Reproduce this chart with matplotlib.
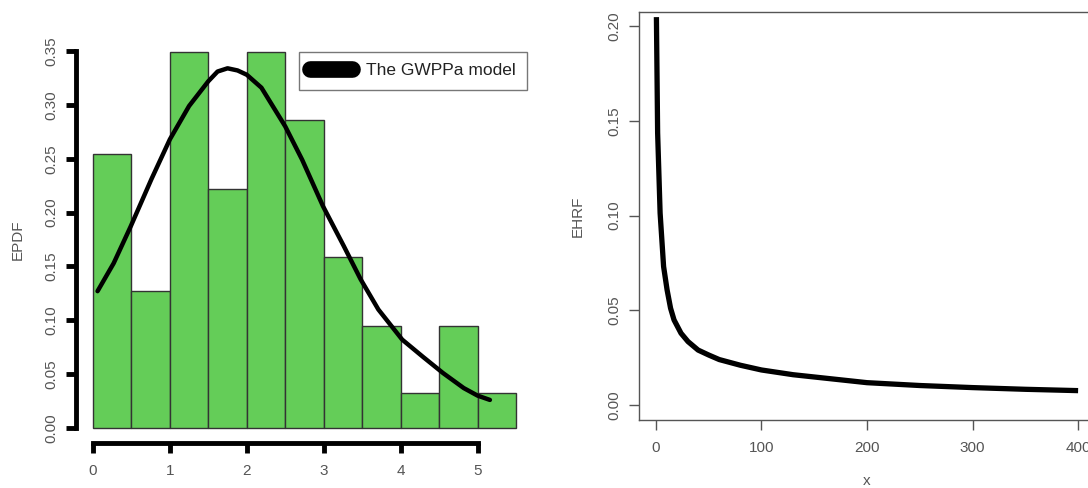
import numpy as np
import matplotlib.pyplot as plt
from matplotlib.lines import Line2D

plt.rcParams['font.family'] = ['Liberation Sans', 'DejaVu Sans']

# histogram bins (width 0.5) and density heights
bin_edges = [0, 0.5, 1.0, 1.5, 2.0, 2.5, 3.0, 3.5, 4.0, 4.5, 5.0, 5.5]
density = [0.254, 0.127, 0.349, 0.222, 0.349, 0.286, 0.159, 0.095, 0.032, 0.095, 0.032]

# fitted GWPPa density
pdf_x = [0.06, 0.27, 0.49, 0.76, 1.0, 1.25, 1.5, 1.62, 1.75, 1.88, 2.0, 2.19, 2.5, 2.72,
         2.99, 3.26, 3.48, 3.71, 4.02, 4.29, 4.55, 4.82, 5.0, 5.16]
pdf_y = [0.127, 0.153, 0.187, 0.231, 0.268, 0.299, 0.322, 0.331, 0.334, 0.332, 0.328, 0.316,
         0.280, 0.249, 0.206, 0.169, 0.138, 0.110, 0.082, 0.066, 0.051, 0.037, 0.030, 0.026]

# hazard rate curve
hrf_x = [0.5, 1.0, 1.65, 4.0, 7.3, 10.6, 13.9, 17.2, 23.8, 30.4, 40, 50, 60, 80,
         100, 130, 160, 200, 250, 300, 350, 400]
hrf_y = [0.2047, 0.178, 0.1436, 0.1013, 0.0731, 0.0608, 0.0511, 0.0449, 0.0379,
         0.0335, 0.029, 0.0264, 0.024, 0.021, 0.0185, 0.016, 0.0142, 0.0118,
         0.0103, 0.0092, 0.0083, 0.0076]

grey = '#555555'
fs = 11
fig = plt.figure(figsize=(10.88, 4.88), dpi=100)

# ---- left panel: histogram + density ----
ax1 = fig.add_axes([76 / 1088, 1 - 443 / 488, 457 / 1088, 407 / 488])
widths = np.diff(bin_edges)
ax1.bar(bin_edges[:-1], density, width=widths, align='edge',
        color='#64cd58', edgecolor='#333333', linewidth=1)
ax1.plot(pdf_x, pdf_y, color='black', lw=3.2, solid_capstyle='round')
ax1.set_xlim(-0.22, 5.72)
ax1.set_ylim(-0.014, 0.364)
for s in ['top', 'right']:
    ax1.spines[s].set_visible(False)
ax1.spines['left'].set_bounds(0, 0.35)
ax1.spines['bottom'].set_bounds(0, 5)
ax1.spines['left'].set_linewidth(3.5)
ax1.spines['bottom'].set_linewidth(3.5)
ax1.set_xticks([0, 1, 2, 3, 4, 5])
ax1.set_yticks([0.0, 0.05, 0.10, 0.15, 0.20, 0.25, 0.30, 0.35])
ax1.set_yticklabels(['0.00', '0.05', '0.10', '0.15', '0.20', '0.25', '0.30', '0.35'])
ax1.tick_params(axis='both', length=7, width=3.5, colors='black',
                labelcolor=grey, labelsize=fs)
ax1.tick_params(axis='x', pad=8)
ax1.tick_params(axis='y', labelrotation=90, pad=6)
for lab in ax1.get_yticklabels():
    lab.set_va('center')
ax1.set_ylabel('EPDF', color=grey, fontsize=fs, labelpad=14)
handle = Line2D([], [], color='black', lw=12, solid_capstyle='round')
leg = ax1.legend([handle], ['The GWPPa model'], loc='upper right',
                 bbox_to_anchor=(0.987, 0.961), borderaxespad=0, fancybox=False,
                 handlelength=2.4, fontsize=12.5, borderpad=0.65, handletextpad=0.8)
leg.get_frame().set_edgecolor('#555555')
leg.get_frame().set_linewidth(1)
for t in leg.get_texts():
    t.set_color('#222222')

# ---- right panel: hazard rate ----
ax2 = fig.add_axes([639 / 1088, 1 - 420 / 488, 456 / 1088, 408 / 488])
ax2.plot(hrf_x, hrf_y, color='black', lw=3.8, solid_capstyle='butt')
ax2.set_xlim(-16, 416)
ax2.set_ylim(-0.0079, 0.2074)
for s in ax2.spines.values():
    s.set_color(grey)
    s.set_linewidth(1)
ax2.set_xticks([0, 100, 200, 300, 400])
ax2.set_yticks([0.0, 0.05, 0.10, 0.15, 0.20])
ax2.set_yticklabels(['0.00', '0.05', '0.10', '0.15', '0.20'])
ax2.tick_params(axis='both', length=7, width=1, colors=grey,
                labelcolor=grey, labelsize=fs, pad=8)
ax2.tick_params(axis='y', labelrotation=90, pad=6)
for lab in ax2.get_yticklabels():
    lab.set_va('center')
ax2.set_ylabel('EHRF', color=grey, fontsize=fs, labelpad=16)
ax2.set_xlabel('x', color=grey, fontsize=fs, labelpad=14)

fig.savefig('out.png', dpi=100)
